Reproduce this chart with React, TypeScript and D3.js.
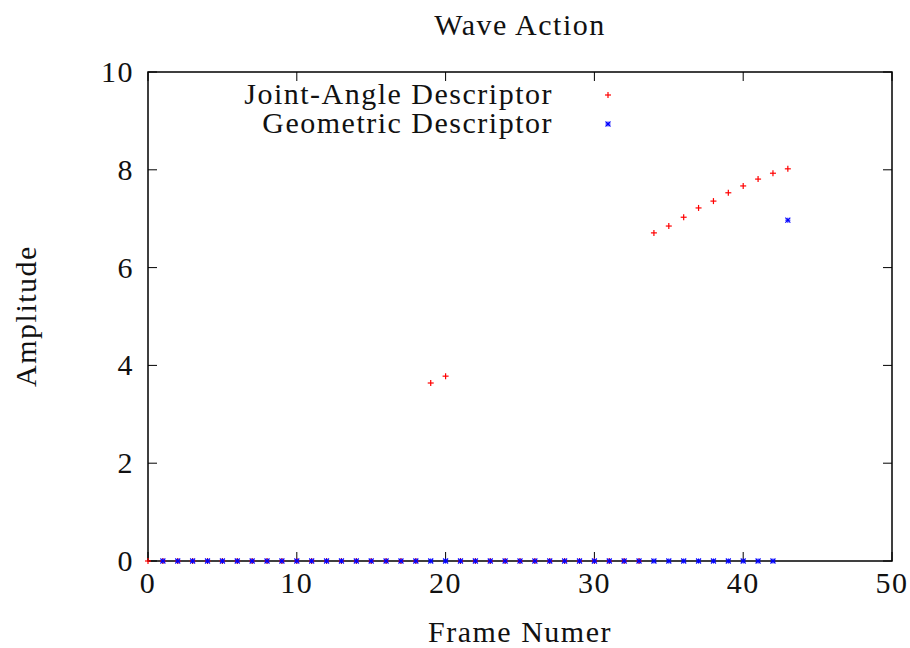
import React from "react";
import * as d3 from "d3";

const jointFrames = Array.from({ length: 44 }, (_, i) => i);
const jointValues = [
  0, 0, 0, 0, 0, 0, 0, 0, 0, 0, 0, 0, 0, 0, 0, 0, 0, 0, 0, 3.64, 3.78, 0, 0, 0, 0, 0, 0, 0, 0, 0, 0, 0, 0, 0,
  6.71, 6.85, 7.03, 7.22, 7.36, 7.53, 7.67, 7.81, 7.93, 8.02,
];
const geoFrames = Array.from({ length: 43 }, (_, i) => i + 1);
const geoValues = [
  0, 0, 0, 0, 0, 0, 0, 0, 0, 0, 0, 0, 0, 0, 0, 0, 0, 0, 0, 0, 0, 0, 0, 0, 0, 0, 0, 0, 0, 0, 0, 0, 0, 0, 0, 0,
  0, 0, 0, 0, 0, 0, 6.97,
];
const xTicks = [0, 10, 20, 30, 40, 50];
const yTicks = [0, 2, 4, 6, 8, 10];
const seriesNames = ["Joint-Angle Descriptor", "Geometric Descriptor"];

const W = 910, H = 648;
const L = 148, R = 892, T = 72, B = 561;
const font = "'Liberation Serif', 'Times New Roman', serif";
const FS = 30;
const LS = 1.5;

function Plus({ x, y, c }: { x: number; y: number; c: string }) {
  const s = 3;
  return (
    <g stroke={c} strokeWidth={1.2}>
      <line x1={x - s} x2={x + s} y1={y} y2={y} />
      <line x1={x} x2={x} y1={y - s} y2={y + s} />
    </g>
  );
}
function Star({ x, y, c }: { x: number; y: number; c: string }) {
  const s = 2.5;
  return (
    <g stroke={c} strokeWidth={1.1}>
      <line x1={x - s} x2={x + s} y1={y} y2={y} />
      <line x1={x} x2={x} y1={y - s} y2={y + s} />
      <line x1={x - s} x2={x + s} y1={y - s} y2={y + s} />
      <line x1={x - s} x2={x + s} y1={y + s} y2={y - s} />
    </g>
  );
}

export default function App() {
  const x = d3.scaleLinear().domain([0, 50]).range([L, R]);
  const y = d3.scaleLinear().domain([0, 10]).range([B, T]);
  const tl = 9;
  return (
    <svg width={W} height={H} style={{ position: "absolute", left: 0, top: 0, background: "#fff" }} fontFamily={font} fill="#111">
      <rect x={0} y={0} width={W} height={H} fill="#fff" />
      <text x={520} y={35} fontSize={FS} letterSpacing={LS} textAnchor="middle">Wave Action</text>
      <text x={520} y={642} fontSize={FS} letterSpacing={LS} textAnchor="middle">Frame Numer</text>
      <text transform={`translate(36,${316}) rotate(-90)`} fontSize={FS} letterSpacing={LS} textAnchor="middle">Amplitude</text>
      {xTicks.map((t) => (
        <g key={"x" + t}>
          <line x1={x(t)} x2={x(t)} y1={B} y2={B - tl} stroke="#000" strokeWidth={1} />
          <line x1={x(t)} x2={x(t)} y1={T} y2={T + tl} stroke="#000" strokeWidth={1} />
          <text x={x(t)} y={B + 32} fontSize={FS} letterSpacing={LS} textAnchor="middle">{t}</text>
        </g>
      ))}
      {yTicks.map((t) => (
        <g key={"y" + t}>
          <line x1={L} x2={L + tl} y1={y(t)} y2={y(t)} stroke="#000" strokeWidth={1} />
          <line x1={R} x2={R - tl} y1={y(t)} y2={y(t)} stroke="#000" strokeWidth={1} />
          <text x={134} y={y(t) + 10} fontSize={FS} letterSpacing={LS} textAnchor="end">{t}</text>
        </g>
      ))}
      <rect x={L} y={T} width={R - L} height={B - T} fill="none" stroke="#000" strokeWidth={1.5} />
      {jointFrames.map((f, i) => (
        <Plus key={"j" + i} x={x(f)} y={y(jointValues[i])} c="#ff0000" />
      ))}
      {geoFrames.map((f, i) => (
        <Star key={"g" + i} x={x(f)} y={y(geoValues[i])} c="#0000ff" />
      ))}
      <text x={553} y={104} fontSize={FS} letterSpacing={LS} textAnchor="end">{seriesNames[0]}</text>
      <Plus x={608} y={95} c="#ff0000" />
      <text x={553} y={133} fontSize={FS} letterSpacing={LS} textAnchor="end">{seriesNames[1]}</text>
      <Star x={608} y={124} c="#0000ff" />
    </svg>
  );
}
